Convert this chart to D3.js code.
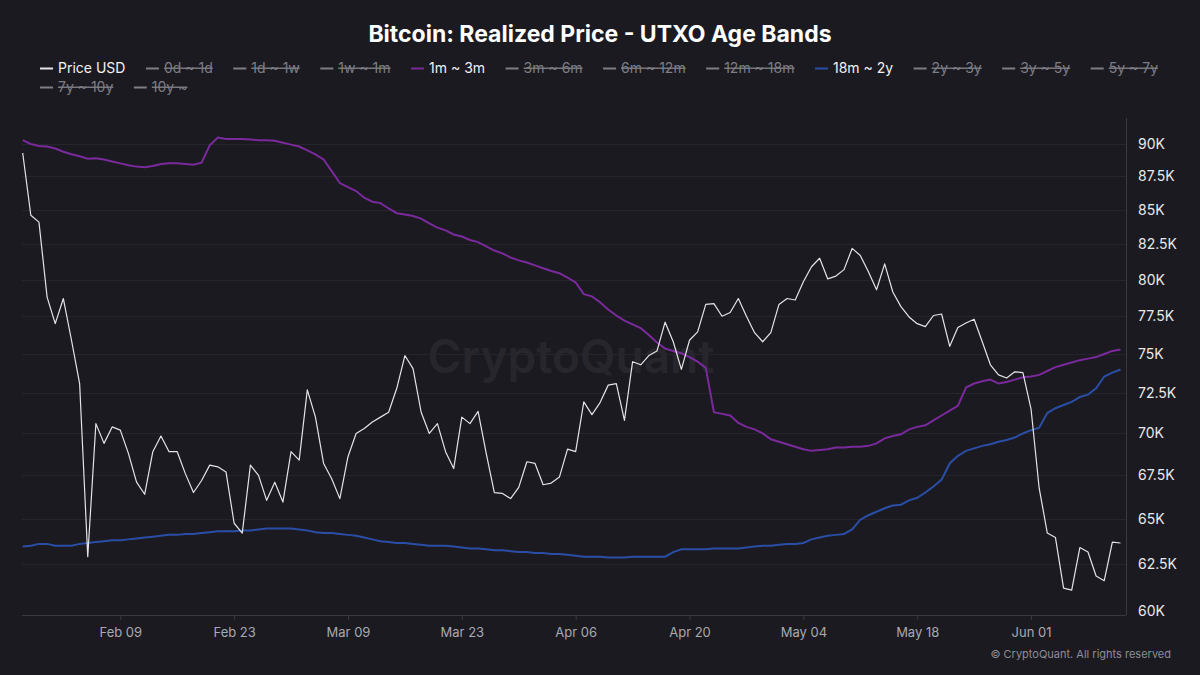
<!DOCTYPE html>
<html>
<head>
<meta charset="utf-8">
<script src="https://cdn.jsdelivr.net/npm/d3@7"></script>
<style>
  html, body { margin: 0; padding: 0; background: #1b1a20; }
  svg { display: block; font-family: Inter, "Noto Sans", sans-serif; }
</style>
</head>
<body>
<svg id="chart" width="1200" height="675"></svg>
<script>
'use strict';

// daily values, first day = 2026-01-28
var firstDay = '2026-01-28';

var priceUsd = [
  89.3, 84.6, 84.1, 78.8, 77.0, 78.7, 75.9, 73.1, 62.9, 70.6,
  69.4, 70.4, 70.2, 68.8, 67.1, 66.4, 68.9, 69.85, 68.9, 68.9,
  67.6, 66.5, 67.2, 68.1, 68.0, 67.7, 64.75, 64.2, 68.1, 67.5,
  66.05, 67.1, 65.95, 68.9, 68.4, 72.7, 71.0, 68.2, 67.3, 66.15,
  68.6, 70.0, 70.3, 70.7, 71.0, 71.3, 72.8, 74.9, 74.05, 71.3,
  70.0, 70.6, 68.9, 67.9, 71.0, 70.6, 71.35, 68.8, 66.5, 66.45,
  66.15, 66.8, 68.3, 68.2, 66.95, 67.05, 67.4, 69.05, 68.9, 71.95,
  71.15, 71.9, 73.0, 73.1, 70.8, 74.5, 74.3, 74.9, 75.2, 77.1,
  75.8, 74.0, 75.9, 76.45, 78.3, 78.35, 77.5, 77.75, 78.7, 77.5,
  76.4, 75.8, 76.4, 78.3, 78.7, 78.6, 79.85, 80.9, 81.5, 80.05,
  80.25, 80.7, 82.2, 81.7, 80.55, 79.3, 81.1, 79.15, 78.15, 77.45,
  77.0, 76.8, 77.55, 77.65, 75.5, 76.75, 77.05, 77.3, 75.8, 74.3,
  73.65, 73.45, 73.85, 73.8, 71.5, 66.75, 64.2, 63.95, 61.2, 61.1,
  63.4, 63.15, 61.85, 61.6, 63.7, 63.65
];

var band1m3m = [
  90.3, 90.0, 89.85, 89.8, 89.65, 89.4, 89.2, 89.05, 88.85, 88.9,
  88.8, 88.65, 88.5, 88.35, 88.25, 88.2, 88.3, 88.45, 88.5, 88.5,
  88.45, 88.4, 88.55, 89.9, 90.5, 90.4, 90.4, 90.4, 90.35, 90.3,
  90.3, 90.25, 90.1, 89.95, 89.8, 89.5, 89.2, 88.8, 87.9, 87.0,
  86.7, 86.4, 85.9, 85.6, 85.5, 85.1, 84.75, 84.65, 84.55, 84.35,
  84.0, 83.7, 83.5, 83.2, 83.05, 82.8, 82.65, 82.35, 82.05, 81.85,
  81.55, 81.35, 81.2, 81.0, 80.8, 80.6, 80.45, 80.15, 79.8, 79.0,
  78.85, 78.45, 77.95, 77.55, 77.2, 76.95, 76.7, 76.25, 75.75, 75.35,
  75.2, 75.05, 74.8, 74.5, 74.1, 71.3, 71.2, 71.1, 70.65, 70.4,
  70.25, 70.0, 69.65, 69.5, 69.35, 69.2, 69.05, 68.95, 69.0, 69.05,
  69.15, 69.15, 69.2, 69.2, 69.25, 69.4, 69.7, 69.85, 69.95, 70.25,
  70.4, 70.5, 70.8, 71.1, 71.4, 71.7, 72.85, 73.1, 73.25, 73.35,
  73.1, 73.2, 73.35, 73.5, 73.55, 73.65, 73.9, 74.15, 74.3, 74.45,
  74.6, 74.7, 74.8, 75.0, 75.2, 75.3
];

var band18m2y = [
  63.45, 63.5, 63.6, 63.6, 63.5, 63.5, 63.5, 63.6, 63.65, 63.7,
  63.75, 63.8, 63.8, 63.85, 63.9, 63.95, 64.0, 64.05, 64.1, 64.1,
  64.15, 64.15, 64.2, 64.25, 64.3, 64.3, 64.3, 64.35, 64.35, 64.4,
  64.45, 64.45, 64.45, 64.45, 64.4, 64.35, 64.25, 64.2, 64.2, 64.15,
  64.1, 64.05, 63.95, 63.85, 63.75, 63.7, 63.65, 63.65, 63.6, 63.55,
  63.5, 63.5, 63.5, 63.45, 63.4, 63.35, 63.35, 63.3, 63.25, 63.25,
  63.2, 63.15, 63.15, 63.1, 63.1, 63.05, 63.05, 63.0, 62.95, 62.9,
  62.9, 62.9, 62.85, 62.85, 62.85, 62.9, 62.9, 62.9, 62.9, 62.9,
  63.15, 63.3, 63.3, 63.3, 63.3, 63.35, 63.35, 63.35, 63.35, 63.4,
  63.45, 63.5, 63.5, 63.55, 63.6, 63.6, 63.65, 63.85, 63.95, 64.05,
  64.1, 64.15, 64.4, 64.95, 65.2, 65.4, 65.6, 65.75, 65.8, 66.05,
  66.2, 66.5, 66.85, 67.25, 68.2, 68.65, 68.95, 69.1, 69.25, 69.35,
  69.5, 69.6, 69.75, 70.0, 70.2, 70.35, 71.25, 71.55, 71.75, 71.95,
  72.25, 72.4, 72.8, 73.55, 73.8, 74.0
];

var yTickValues = [60, 62.5, 65, 67.5, 70, 72.5, 75, 77.5, 80, 82.5, 85, 87.5, 90];
var xTickDates = ['2026-02-09', '2026-02-23', '2026-03-09', '2026-03-23', '2026-04-06',
  '2026-04-20', '2026-05-04', '2026-05-18', '2026-06-01'];

var legendItems = [
  { name: 'Price USD', on: true, color: '#e4e4e6' },
  { name: '0d ~ 1d', on: false },
  { name: '1d ~ 1w', on: false },
  { name: '1w ~ 1m', on: false },
  { name: '1m ~ 3m', on: true, color: '#7a2a9c' },
  { name: '3m ~ 6m', on: false },
  { name: '6m ~ 12m', on: false },
  { name: '12m ~ 18m', on: false },
  { name: '18m ~ 2y', on: true, color: '#2a4ea6' },
  { name: '2y ~ 3y', on: false },
  { name: '3y ~ 5y', on: false },
  { name: '5y ~ 7y', on: false },
  { name: '7y ~ 10y', on: false },
  { name: '10y ~', on: false }
];

var parseDay = d3.utcParse('%Y-%m-%d');
var start = parseDay(firstDay);
var toRows = function(values) {
  return values.map(function(v, i) {
    return { date: d3.utcDay.offset(start, i), value: v * 1000 };
  });
};

var svg = d3.select('#chart');
var plotLeft = 22, plotRight = 1126, plotTop = 118, plotBottom = 615;

var x = d3.scaleUtc()
  .domain([start, d3.utcDay.offset(start, priceUsd.length - 1)])
  .range([22.7, 1120.5]);

var y = d3.scaleLog()
  .domain([60000, 90000])
  .range([611, 144]);

// title
svg.append('text')
  .attr('x', 600).attr('y', 42)
  .attr('text-anchor', 'middle')
  .attr('fill', '#ffffff')
  .style('font-size', '23px').style('font-weight', 700)
  .text('Bitcoin: Realized Price - UTXO Age Bands');

// legend, wraps to a second row
var legend = svg.append('g');
var lx = 40, ly = 68;
legendItems.forEach(function(item) {
  var g = legend.append('g');
  var label = g.append('text')
    .attr('x', 18).attr('y', 0).attr('dy', '0.35em')
    .style('font-size', '14px')
    .attr('fill', item.on ? '#f2f2f2' : '#7d7d85')
    .style('text-decoration', item.on ? null : 'line-through')
    .text(item.name);
  var w = 18 + label.node().getComputedTextLength() + 20.5;
  if (lx + w > 1185) { lx = 40; ly += 19; }
  g.attr('transform', 'translate(' + lx + ',' + ly + ')');
  g.insert('line', 'text')
    .attr('x1', 0).attr('x2', 13).attr('y1', 0.5).attr('y2', 0.5)
    .attr('stroke', item.on ? item.color : '#7d7d85')
    .attr('stroke-width', 2);
  lx += w;
});

// watermark
svg.append('text')
  .attr('x', 571).attr('y', 373)
  .attr('text-anchor', 'middle')
  .attr('fill', '#27262d')
  .style('font-size', '46px').style('font-weight', 600)
  .text('CryptoQuant');

// gridlines
svg.append('g').selectAll('line')
  .data(yTickValues.filter(function(v) { return v > 60; }))
  .join('line')
  .attr('x1', plotLeft).attr('x2', plotRight)
  .attr('y1', function(d) { return Math.round(y(d * 1000)) + 0.5; })
  .attr('y2', function(d) { return Math.round(y(d * 1000)) + 0.5; })
  .attr('stroke', '#26252c').attr('stroke-width', 1);

// right y axis
var yAxis = svg.append('g')
  .attr('transform', 'translate(' + plotRight + ',0)')
  .call(d3.axisRight(y)
    .tickValues(yTickValues.map(function(v) { return v * 1000; }))
    .tickSize(0).tickPadding(12)
    .tickFormat(function(d) { return (d / 1000) + 'K'; }));
yAxis.select('.domain').remove();
yAxis.selectAll('text')
  .attr('fill', '#e8e8ea')
  .style('font-size', '14px')
  .style('font-family', 'Inter, "Noto Sans", sans-serif');
svg.append('line')
  .attr('x1', plotRight + 0.5).attr('x2', plotRight + 0.5)
  .attr('y1', plotTop).attr('y2', plotBottom)
  .attr('stroke', '#3a3940');

// bottom x axis
var xAxis = svg.append('g')
  .attr('transform', 'translate(0,' + plotBottom + ')')
  .call(d3.axisBottom(x)
    .tickValues(xTickDates.map(parseDay))
    .tickSize(5).tickPadding(8)
    .tickFormat(d3.utcFormat('%b %d')));
xAxis.select('.domain').remove();
xAxis.selectAll('line').attr('stroke', '#3a3940');
xAxis.selectAll('text')
  .attr('fill', '#a9a9b0')
  .style('font-size', '13px')
  .style('font-family', 'Inter, "Noto Sans", sans-serif');
svg.append('line')
  .attr('x1', plotLeft).attr('x2', plotRight)
  .attr('y1', plotBottom + 0.5).attr('y2', plotBottom + 0.5)
  .attr('stroke', '#3a3940');

// series
var line = d3.line()
  .x(function(d) { return x(d.date); })
  .y(function(d) { return y(d.value); });

svg.append('path')
  .datum(toRows(band18m2y))
  .attr('fill', 'none').attr('stroke', '#2a4ea6').attr('stroke-width', 2)
  .attr('d', line);

svg.append('path')
  .datum(toRows(band1m3m))
  .attr('fill', 'none').attr('stroke', '#7a2a9c').attr('stroke-width', 2)
  .attr('d', line);

svg.append('path')
  .datum(toRows(priceUsd))
  .attr('fill', 'none').attr('stroke', '#e4e4e6').attr('stroke-width', 1.2)
  .attr('stroke-linejoin', 'round')
  .attr('d', line);

// copyright
svg.append('text')
  .attr('x', 1171).attr('y', 658)
  .attr('text-anchor', 'end')
  .attr('fill', '#8d8d94')
  .style('font-size', '11px')
  .text('\u00a9 CryptoQuant. All rights reserved');
</script>
</body>
</html>
